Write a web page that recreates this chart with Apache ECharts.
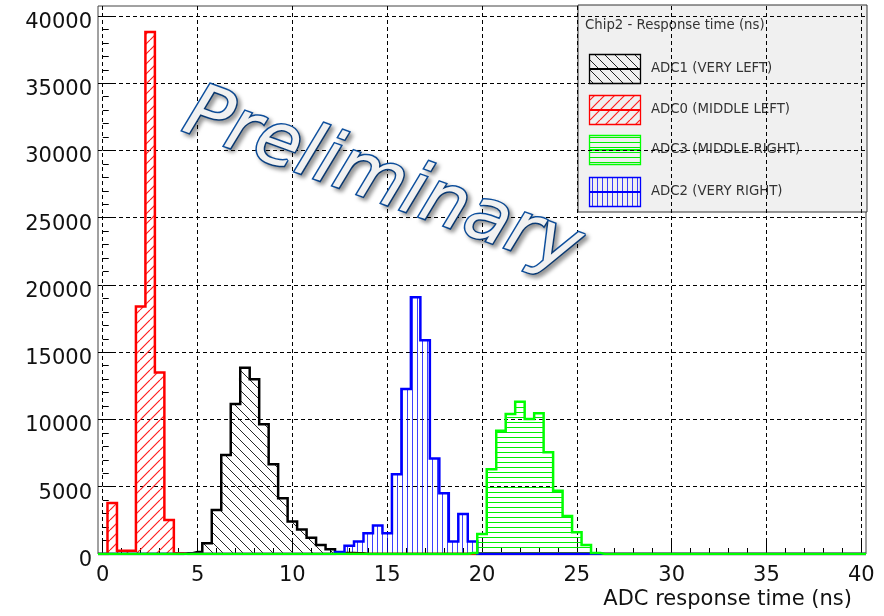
<!DOCTYPE html>
<html>
<head>
<meta charset="utf-8">
<script src="https://cdn.jsdelivr.net/npm/echarts@6/dist/echarts.min.js"></script>
<style>
  html, body { margin: 0; padding: 0; background: #ffffff; }
  #chart { width: 884px; height: 616px; }
</style>
</head>
<body>
<div id="chart"></div>
<script>
// Histogram binning: 0.5 ns bins centred on multiples of 0.5, axis spans the outer bin edges
const binWidth = 0.5;
const xMin = -0.25;
const xMax = 40.25;
const yMax = 40740;

// Tick values
const xMajorTicks = [0, 5, 10, 15, 20, 25, 30, 35, 40];
const yMajorTicks = [0, 5000, 10000, 15000, 20000, 25000, 30000, 35000, 40000];
const xMinorStep = 1;
const yMinorStep = 1000;

// Entries per bin, listed from the first bin centre given by *Start
const adc1Start = 4.5;   // ADC1 (VERY LEFT)
const adc1Counts = [50, 150, 800, 3270, 7360, 11150, 13850, 13000, 9640, 6670, 4140, 2420, 1830, 1210, 670, 350, 80, 80, 50];
const adc0Start = 0.0;   // ADC0 (MIDDLE LEFT)
const adc0Counts = [0, 3800, 250, 250, 18400, 38800, 13500, 2530, 50];
const adc2Start = 12.5;  // ADC2 (VERY RIGHT)
const adc2Counts = [150, 620, 920, 1540, 2110, 1540, 5920, 12270, 19080, 15900, 7100, 4510, 920, 2970, 920];
const adc3Start = 19.5;  // ADC3 (MIDDLE RIGHT)
const adc3Counts = [80, 1490, 6300, 9170, 10410, 11320, 10040, 10460, 7560, 4710, 2830, 1610, 670, 80];

const legendTitle = 'Chip2 - Response time (ns)';
const xTitle = 'ADC response time (ns)';
const watermark = 'Preliminary';

const FONT = '"DejaVu Sans", "Noto Sans", sans-serif';

function range(from, to, step) {
  const out = [];
  for (let v = from; v <= to + 1e-9; v += step) out.push(+v.toFixed(6));
  return out;
}

// Full histogram as step points: every bin centre plus the outer edges at zero
function histogram(start, counts) {
  const nBins = Math.round(40 / binWidth) + 1;
  const first = Math.round(start / binWidth);
  const pts = [[xMin, 0]];
  for (let i = 0; i < nBins; i++) {
    const k = i - first;
    const v = (k >= 0 && k < counts.length) ? counts[k] : 0;
    pts.push([i * binWidth, v]);
  }
  pts.push([xMax, 0]);
  return pts;
}

// Hatch tiles used as fill patterns (a fresh canvas per use)
function hatch(kind, color, size, width) {
  const c = document.createElement('canvas');
  c.width = size; c.height = size;
  const g = c.getContext('2d');
  g.clearRect(0, 0, size, size);
  g.strokeStyle = color;
  g.lineWidth = width;
  g.beginPath();
  if (kind === 'fwd') {
    for (const o of [-size, 0, size]) { g.moveTo(o, size); g.lineTo(o + size, 0); }
  } else if (kind === 'back') {
    for (const o of [-size, 0, size]) { g.moveTo(o, 0); g.lineTo(o + size, size); }
  } else if (kind === 'horiz') {
    g.moveTo(0, size / 2); g.lineTo(size, size / 2);
  } else {
    g.moveTo(size / 2, 0); g.lineTo(size / 2, size);
  }
  g.stroke();
  return c;
}

const styles = {
  adc1: { color: '#000000', tile: () => hatch('back', 'rgba(0,0,0,0.85)', 10, 1) },
  adc0: { color: '#ff0000', tile: () => hatch('fwd', '#ff2020', 10, 1.2) },
  adc3: { color: '#00ff00', tile: () => hatch('horiz', '#00ee00', 5, 1) },
  adc2: { color: '#0000ff', tile: () => hatch('vert', 'rgba(0,0,255,0.75)', 5, 1) }
};

function histSeries(name, start, counts, st) {
  return {
    type: 'line',
    name: name,
    data: histogram(start, counts),
    step: 'middle',
    showSymbol: false,
    symbol: 'none',
    animation: false,
    xAxisIndex: 0,
    yAxisIndex: 0,
    lineStyle: { color: st.color, width: 2.5, join: 'miter' },
    itemStyle: { color: st.color },
    areaStyle: { color: { image: st.tile(), repeat: 'repeat' }, opacity: 1 },
    emphasis: { disabled: true }
  };
}

// Legend box drawn as graphics
const legendEntries = [
  { label: 'ADC1 (VERY LEFT)', st: styles.adc1 },
  { label: 'ADC0 (MIDDLE LEFT)', st: styles.adc0 },
  { label: 'ADC3 (MIDDLE RIGHT)', st: styles.adc3 },
  { label: 'ADC2 (VERY RIGHT)', st: styles.adc2 }
];
const legendRowsY = [69, 110, 150, 192];
const legendFont = '13.3px ' + FONT;

const legendChildren = [
  { type: 'rect', shape: { x: 578, y: 5, width: 289, height: 207 },
    style: { fill: '#f0f0f0', stroke: '#333333', lineWidth: 1 } },
  { type: 'text', x: 585, y: 26,
    style: { text: legendTitle, font: legendFont, fill: '#333333',
             textAlign: 'left', textVerticalAlign: 'middle', align: 'left', verticalAlign: 'middle' } }
];
legendEntries.forEach((e, i) => {
  const cy = legendRowsY[i];
  legendChildren.push(
    { type: 'rect', shape: { x: 589.5, y: cy - 14.5, width: 51, height: 29 },
      style: { fill: { image: e.st.tile(), repeat: 'repeat' }, stroke: e.st.color, lineWidth: 1.3 } },
    { type: 'line', shape: { x1: 589.5, y1: cy, x2: 640.5, y2: cy },
      style: { stroke: e.st.color, lineWidth: 2 } },
    { type: 'text', x: 651, y: cy,
      style: { text: e.label, font: legendFont, fill: '#333333',
               textAlign: 'left', textVerticalAlign: 'middle', align: 'left', verticalAlign: 'middle' } }
  );
});

const chart = echarts.init(document.getElementById('chart'), null, { renderer: 'canvas' });

chart.setOption({
  animation: false,
  backgroundColor: '#ffffff',
  grid: {
    left: 98, right: 18, top: 6, bottom: 62,
    show: true, borderColor: '#444444', borderWidth: 1,
    backgroundColor: 'transparent',
    containLabel: false,
    outerBoundsMode: 'none'
  },
  xAxis: [
    {
      type: 'value', min: xMin, max: xMax, position: 'bottom',
      axisLine: { show: false },
      axisTick: { show: true, inside: true, length: 12, customValues: xMajorTicks,
                  lineStyle: { color: '#000000', width: 1 } },
      axisLabel: { customValues: xMajorTicks, margin: 11, fontSize: 21, fontFamily: FONT, color: '#111111',
                   formatter: v => String(v) },
      splitLine: { show: true, lineStyle: { type: [4, 3], color: '#000000', width: 1 } }
    },
    {
      type: 'value', min: xMin, max: xMax, position: 'bottom',
      axisLine: { show: false },
      axisTick: { show: true, inside: true, length: 6, customValues: range(0, 40, xMinorStep),
                  lineStyle: { color: '#000000', width: 1 } },
      axisLabel: { show: false },
      splitLine: { show: false }
    }
  ],
  yAxis: [
    {
      type: 'value', min: 0, max: yMax, position: 'left',
      axisLine: { show: false },
      axisTick: { show: true, inside: true, length: 12, customValues: yMajorTicks,
                  lineStyle: { color: '#000000', width: 1 } },
      axisLabel: {
        customValues: yMajorTicks, margin: 6, color: '#111111',
        formatter: v => '{n|' + String(v) + '}',
        rich: { n: { fontSize: 21, fontFamily: FONT, color: '#111111', lineHeight: 34, verticalAlign: 'bottom' } }
      },
      splitLine: { show: true, lineStyle: { type: [4, 3], color: '#000000', width: 1 } }
    },
    {
      type: 'value', min: 0, max: yMax, position: 'left',
      axisLine: { show: false },
      axisTick: { show: true, inside: true, length: 6, customValues: range(0, 40000, yMinorStep),
                  lineStyle: { color: '#000000', width: 1 } },
      axisLabel: { show: false },
      splitLine: { show: false }
    }
  ],
  series: [
    histSeries('ADC1 (VERY LEFT)', adc1Start, adc1Counts, styles.adc1),
    histSeries('ADC0 (MIDDLE LEFT)', adc0Start, adc0Counts, styles.adc0),
    histSeries('ADC2 (VERY RIGHT)', adc2Start, adc2Counts, styles.adc2),
    histSeries('ADC3 (MIDDLE RIGHT)', adc3Start, adc3Counts, styles.adc3)
  ],
  graphic: [
    {
      type: 'text', x: 852, y: 600, z: 100,
      style: { text: xTitle, font: '21px ' + FONT, fill: '#111111',
               textAlign: 'right', textVerticalAlign: 'middle', align: 'right', verticalAlign: 'middle' }
    },
    {
      type: 'text', x: 382, y: 183, rotation: -20 * Math.PI / 180, z: 100,
      style: {
        text: watermark, font: 'italic 73px ' + FONT,
        fill: '#f1f1f1', stroke: '#0d4f9e', lineWidth: 3,
        textAlign: 'center', textVerticalAlign: 'middle', align: 'center', verticalAlign: 'middle',
        textShadowColor: 'rgba(0,0,0,0.35)', textShadowBlur: 4, textShadowOffsetX: 3, textShadowOffsetY: 3
      }
    },
    { type: 'group', z: 110, children: legendChildren }
  ]
});
</script>
</body>
</html>
